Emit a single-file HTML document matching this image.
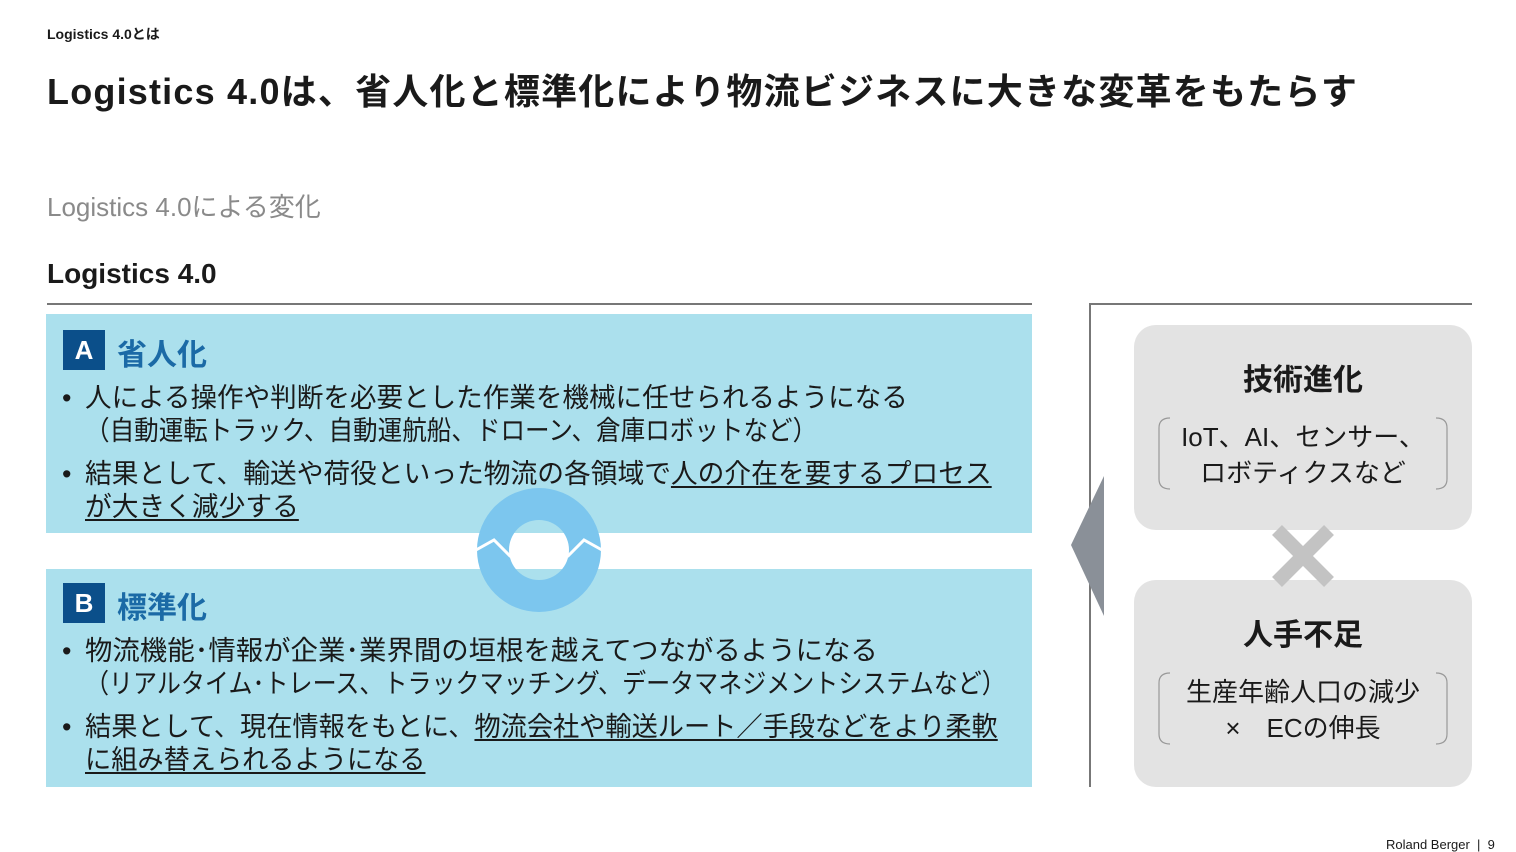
<!DOCTYPE html>
<html><head><meta charset="utf-8"><style>
body{margin:0;width:1516px;height:852px;background:#fff;position:relative;overflow:hidden;font-family:"Liberation Sans","Noto Sans CJK JP",sans-serif;color:#1a1a1a}
.a{position:absolute;white-space:nowrap}
.t{font-size:27px;line-height:33px;transform-origin:0 0}
u{text-decoration:underline;text-decoration-thickness:2px;text-underline-offset:3px}
.box{position:absolute;background:#abe0ed}
.badge{position:absolute;left:63px;width:42px;height:40px;background:#0b4f8a;color:#fff;font-weight:bold;font-size:26px;text-align:center;line-height:40px}
.hd{position:absolute;left:117px;color:#1b6aa6;font-weight:bold;font-size:30px}
.rb{position:absolute;left:1134px;width:338px;background:#e3e3e3;border-radius:22px}
</style></head><body>
<div class="a" style="left:47px;top:24px;font-size:14px;font-weight:bold">Logistics 4.0とは</div>
<div class="a" style="left:47px;top:63px;font-size:36px;font-weight:bold;letter-spacing:1.2px">Logistics 4.0は、省人化と標準化により物流ビジネスに大きな変革をもたらす</div>
<div class="a" style="left:47px;top:187px;font-size:26px;color:#8a8a8a">Logistics 4.0による変化</div>
<div class="a" style="left:47px;top:258px;font-size:28px;font-weight:bold">Logistics 4.0</div>
<div class="a" style="left:47px;top:303px;width:985px;height:2px;background:#777"></div>
<div class="a" style="left:1090px;top:303px;width:382px;height:2px;background:#777"></div>
<div class="a" style="left:1089px;top:303px;width:2px;height:484px;background:#777"></div>

<div class="box" style="left:46px;top:314px;width:986px;height:219px"></div>
<div class="box" style="left:46px;top:569px;width:986px;height:218px"></div>

<svg class="a" style="left:0;top:0" width="1516" height="852">
<defs><mask id="m"><rect width="1516" height="852" fill="#fff"/><circle cx="539" cy="550" r="30" fill="#000"/></mask></defs>
<circle cx="539" cy="550" r="62" fill="#7cc6ee" mask="url(#m)"/>
<polyline points="476,550 494,540 510,556 568,556 584,540 602,550" fill="none" stroke="#fff" stroke-width="3"/>
<polygon points="1071,545 1104,476 1104,616" fill="#8a9098"/>
</svg>

<div class="badge" style="top:330px">A</div>
<div class="hd" style="top:330px">省人化</div>
<div class="a t" style="left:62px;top:382px">•</div>
<div class="a t" style="left:85px;top:382px;transform:scaleX(0.984)">人による操作や判断を必要とした作業を機械に任せられるようになる</div>
<div class="a t" style="left:85px;top:415px;transform:scaleX(0.91)">（自動運転トラック、自動運航船、ドローン、倉庫ロボットなど）</div>
<div class="a t" style="left:62px;top:458px">•</div>
<div class="a t" style="left:85px;top:458px;transform:scaleX(0.99)">結果として、輸送や荷役といった物流の各領域で<u>人の介在を要するプロセス</u></div>
<div class="a t" style="left:85px;top:491px;transform:scaleX(0.99)"><u>が大きく減少する</u></div>

<div class="badge" style="top:583px">B</div>
<div class="hd" style="top:583px">標準化</div>
<div class="a t" style="left:62px;top:635px">•</div>
<div class="a t" style="left:85px;top:635px;transform:scaleX(1.015)">物流機能･情報が企業･業界間の垣根を越えてつながるようになる</div>
<div class="a t" style="left:85px;top:668px;transform:scaleX(0.89)">（リアルタイム･トレース、トラックマッチング、データマネジメントシステムなど）</div>
<div class="a t" style="left:62px;top:711px">•</div>
<div class="a t" style="left:85px;top:711px;transform:scaleX(0.97)">結果として、現在情報をもとに、<u>物流会社や輸送ルート／手段などをより柔軟</u></div>
<div class="a t" style="left:85px;top:744px;transform:scaleX(0.97)"><u>に組み替えられるようになる</u></div>

<div class="rb" style="top:325px;height:205px"></div>
<div class="rb" style="top:580px;height:207px"></div>
<svg class="a" style="left:0;top:0" width="1516" height="852">
<g stroke="#c3c3c3" stroke-width="14"><line x1="1277" y1="530" x2="1329" y2="582"/><line x1="1329" y1="530" x2="1277" y2="582"/></g>
<g fill="none" stroke="#999" stroke-width="1.2">
<path d="M1170,418 Q1159,418 1159,428 L1159,479 Q1159,489 1170,489"/>
<path d="M1436,418 Q1447,418 1447,428 L1447,479 Q1447,489 1436,489"/>
<path d="M1170,673 Q1159,673 1159,683 L1159,734 Q1159,744 1170,744"/>
<path d="M1436,673 Q1447,673 1447,683 L1447,734 Q1447,744 1436,744"/>
</g>
</svg>
<div class="a" style="left:1134px;width:338px;text-align:center;top:355px;font-size:30px;font-weight:bold">技術進化</div>
<div class="a" style="left:1134px;width:338px;text-align:center;top:419px;font-size:26px;line-height:36px">IoT、AI、センサー、<br>ロボティクスなど</div>
<div class="a" style="left:1134px;width:338px;text-align:center;top:610px;font-size:30px;font-weight:bold">人手不足</div>
<div class="a" style="left:1134px;width:338px;text-align:center;top:674px;font-size:26px;line-height:36px">生産年齢人口の減少<br>×　ECの伸長</div>

<div class="a" style="left:1386px;top:837px;font-size:13px">Roland Berger &nbsp;|&nbsp; 9</div>
</body></html>
